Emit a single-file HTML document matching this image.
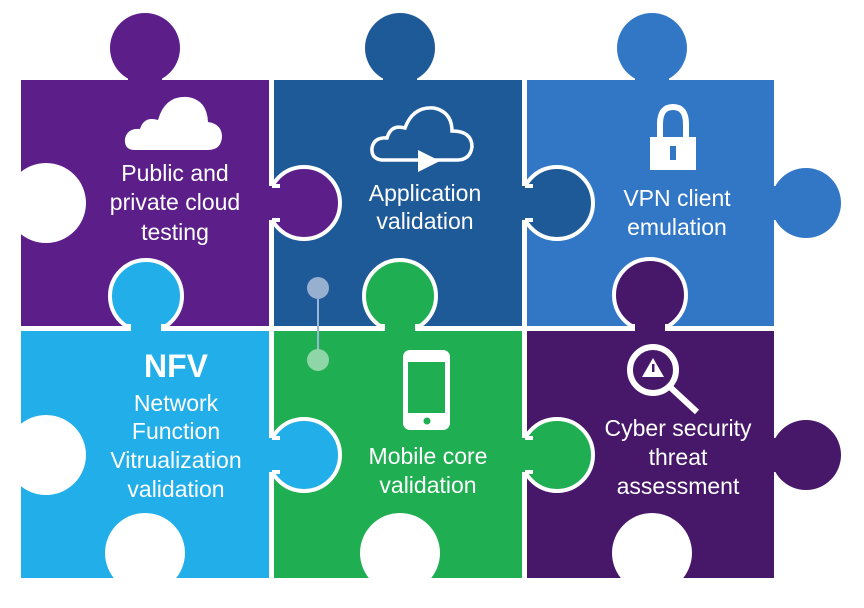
<!DOCTYPE html>
<html><head><meta charset="utf-8"><style>
html,body{margin:0;padding:0;background:#fff;}
svg{display:block;}
text{font-family:"Liberation Sans",Arial,sans-serif;fill:#fff;text-anchor:middle;font-size:23px;}
</style></head><body>
<svg width="864" height="608" viewBox="0 0 864 608">
<rect width="864" height="608" fill="#fff"/>
<rect x="21" y="80" width="248" height="246" fill="#5c1f8a"/>
<rect x="274" y="80" width="248" height="246" fill="#1f5a98"/>
<rect x="527" y="80" width="247" height="246" fill="#3177c6"/>
<rect x="21" y="331" width="248" height="247" fill="#22aee8"/>
<rect x="274" y="331" width="248" height="247" fill="#1fae52"/>
<rect x="527" y="331" width="247" height="247" fill="#47186a"/>

<circle cx="145" cy="48" r="35" fill="#5c1f8a"/><rect x="128" y="70" width="34" height="12" fill="#5c1f8a"/>
<circle cx="400" cy="48" r="35" fill="#1f5a98"/><rect x="383" y="70" width="34" height="12" fill="#1f5a98"/>
<circle cx="652" cy="48" r="35" fill="#3177c6"/><rect x="635" y="70" width="34" height="12" fill="#3177c6"/>
<circle cx="806" cy="203" r="35" fill="#3177c6"/><rect x="772" y="186" width="14" height="34" fill="#3177c6"/>
<circle cx="806" cy="455" r="35" fill="#47186a"/><rect x="772" y="438" width="14" height="34" fill="#47186a"/>
<circle cx="46" cy="203" r="40" fill="#fff"/>
<circle cx="46" cy="455" r="40" fill="#fff"/>
<circle cx="145" cy="553" r="40" fill="#fff"/>
<circle cx="400" cy="553" r="40" fill="#fff"/>
<circle cx="652" cy="553" r="40" fill="#fff"/>

<g stroke="#fff" stroke-width="4">
<circle cx="304" cy="203" r="36" fill="#5c1f8a"/>
<circle cx="557" cy="203" r="36" fill="#1f5a98"/>
<circle cx="146" cy="296" r="36" fill="#22aee8"/>
<circle cx="400" cy="296" r="36" fill="#1fae52"/>
<circle cx="650" cy="295" r="36" fill="#47186a"/>
<circle cx="304" cy="455" r="36" fill="#22aee8"/>
<circle cx="557" cy="455" r="36" fill="#1fae52"/>
</g>
<rect x="266" y="186" width="22" height="34" fill="#5c1f8a"/>
<rect x="519" y="186" width="22" height="34" fill="#1f5a98"/>
<rect x="129" y="318" width="34" height="18" fill="#22aee8"/>
<rect x="383" y="318" width="34" height="18" fill="#1fae52"/>
<rect x="633" y="318" width="34" height="18" fill="#47186a"/>
<rect x="266" y="438" width="22" height="34" fill="#22aee8"/>
<rect x="519" y="438" width="22" height="34" fill="#1fae52"/>
<g stroke="#fff" stroke-width="4">
<path d="M272 186H280M272 220H280"/>
<path d="M525 186H533M525 220H533"/>
<path d="M129 324V331M163 324V331"/>
<path d="M383 324V331M417 324V331"/>
<path d="M633 324V331M667 324V331"/>
<path d="M272 438H280M272 472H280"/>
<path d="M525 438H533M525 472H533"/>
</g>

<line x1="318" y1="288" x2="318" y2="360" stroke="#9bb6d4" stroke-width="2"/>
<circle cx="318" cy="288" r="11" fill="#97b0d0"/>
<circle cx="318" cy="360" r="11" fill="#8fd6a6"/>

<path d="M135 150 Q124 150 125 139 Q127 128 140 129 Q144 116 158 120 Q165 95 188 97 Q207 100 208 122 Q222 124 222 137 Q221 150 208 150 Z" fill="#fff"/>
<path d="M382 160 Q371 159 372 148 Q374 137 387 138 Q391 124 405 128 Q413 106 434 108 Q452 112 452 131 Q472 131 472 147 Q470 160 457 160 Z" fill="none" stroke="#fff" stroke-width="3.5"/>
<polygon points="418,150 418,172 440,161" fill="#fff"/>
<path d="M660 138 V124 Q660 107 673 107 Q686 107 686 124 V138" fill="none" stroke="#fff" stroke-width="6"/>
<rect x="650" y="137" width="46" height="33" fill="#fff"/>
<rect x="670" y="146" width="6" height="14" fill="#3177c6"/>
<rect x="403" y="350" width="47" height="80" rx="7" fill="#fff"/>
<rect x="408" y="362" width="37" height="51" fill="#1fae52"/>
<circle cx="427" cy="421" r="3.5" fill="#1fae52"/>
<circle cx="653" cy="370" r="23" fill="none" stroke="#fff" stroke-width="6"/>
<line x1="670" y1="387" x2="697" y2="412" stroke="#fff" stroke-width="6"/>
<polygon points="653,358 642,377 664,377" fill="#fff"/>
<rect x="652" y="364" width="2.5" height="8" fill="#47186a"/>

<text x="175" y="181">Public and</text>
<text x="175" y="210">private cloud</text>
<text x="175" y="240">testing</text>
<text x="425" y="201">Application</text>
<text x="425" y="229">validation</text>
<text x="677" y="206">VPN client</text>
<text x="677" y="235">emulation</text>
<text x="176" y="377" style="font-size:32px;font-weight:bold">NFV</text>
<text x="176" y="411">Network</text>
<text x="176" y="439">Function</text>
<text x="176" y="468">Vitrualization</text>
<text x="176" y="497">validation</text>
<text x="428" y="464">Mobile core</text>
<text x="428" y="493">validation</text>
<text x="678" y="436">Cyber security</text>
<text x="678" y="465">threat</text>
<text x="678" y="494">assessment</text>
</svg>
</body></html>
